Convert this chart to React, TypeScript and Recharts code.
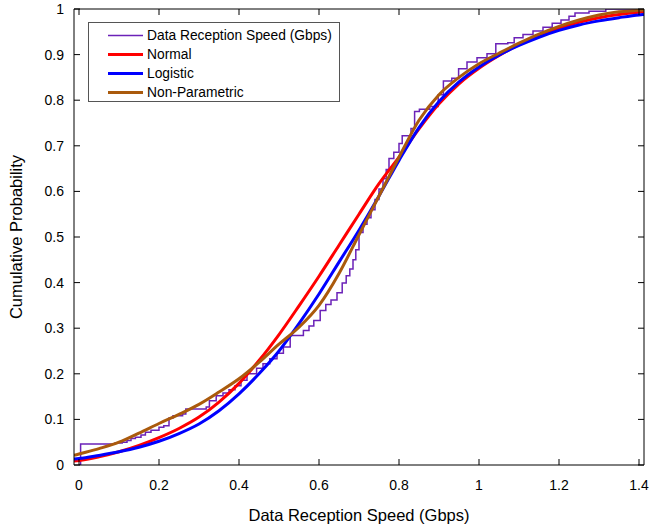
import { Legend, Line, LineChart, XAxis, YAxis } from "recharts";

const fitX = [
    -0.0125, 0, 0.05, 0.1, 0.15, 0.2, 0.25, 0.3, 0.35, 0.4, 0.45, 0.5, 0.55, 0.6, 0.65, 0.7,
    0.75, 0.8, 0.85, 0.9, 0.95, 1.0, 1.05, 1.1, 1.15, 1.2, 1.25, 1.3, 1.35, 1.4, 1.4125,
];

const normalY = [
    0.009, 0.01, 0.018, 0.029, 0.043, 0.06, 0.08, 0.105, 0.138, 0.179, 0.229, 0.286, 0.349, 0.414, 0.482, 0.55,
    0.617, 0.675, 0.737, 0.792, 0.836, 0.87, 0.898, 0.922, 0.942, 0.958, 0.971, 0.981, 0.988, 0.993, 0.994,
];

const logisticY = [
    0.013, 0.014, 0.021, 0.029, 0.039, 0.052, 0.069, 0.09, 0.119, 0.156, 0.2, 0.25, 0.31, 0.375, 0.445, 0.515,
    0.59, 0.668, 0.74, 0.797, 0.84, 0.873, 0.899, 0.92, 0.938, 0.953, 0.965, 0.974, 0.981, 0.987, 0.988,
];

const nonParamY = [
    0.021, 0.024, 0.036, 0.05, 0.07, 0.091, 0.111, 0.133, 0.16, 0.189, 0.225, 0.265, 0.302, 0.35, 0.42, 0.505,
    0.59, 0.675, 0.756, 0.812, 0.85, 0.88, 0.903, 0.925, 0.945, 0.962, 0.976, 0.987, 0.994, 0.997, 0.998,
];

// empirical cdf (step)
const empX = [
    0, 0.004, 0.09, 0.108, 0.12, 0.13, 0.141, 0.155, 0.166, 0.18, 0.2, 0.212, 0.225, 0.235, 0.259, 0.267,
    0.318, 0.326, 0.343, 0.36, 0.375, 0.39, 0.405, 0.42, 0.444, 0.46, 0.477, 0.495, 0.511, 0.528, 0.561, 0.575,
    0.587, 0.603, 0.617, 0.63, 0.645, 0.658, 0.668, 0.677, 0.685, 0.692, 0.7, 0.71, 0.72, 0.73, 0.74, 0.75,
    0.76, 0.768, 0.775, 0.787, 0.8, 0.808, 0.83, 0.839, 0.851, 0.877, 0.898, 0.911, 0.932, 0.949, 0.97, 0.995,
    1.02, 1.042, 1.072, 1.088, 1.11, 1.135, 1.16, 1.183, 1.205, 1.225, 1.24, 1.275, 1.317, 1.4125,
];
const empY = [
    0, 0.046, 0.048, 0.05, 0.054, 0.058, 0.061, 0.066, 0.072, 0.076, 0.083, 0.086, 0.103, 0.108, 0.112, 0.123,
    0.127, 0.141, 0.152, 0.158, 0.165, 0.174, 0.186, 0.2, 0.212, 0.222, 0.233, 0.245, 0.259, 0.284, 0.295, 0.305,
    0.317, 0.339, 0.352, 0.362, 0.378, 0.399, 0.415, 0.43, 0.45, 0.472, 0.51, 0.528, 0.542, 0.56, 0.582, 0.605,
    0.628, 0.648, 0.672, 0.686, 0.705, 0.722, 0.738, 0.775, 0.78, 0.786, 0.812, 0.842, 0.848, 0.869, 0.884, 0.893,
    0.902, 0.924, 0.926, 0.937, 0.944, 0.952, 0.96, 0.969, 0.976, 0.984, 0.991, 0.995, 1.0, 1.0,
];

const seriesNames = ["Data Reception Speed (Gbps)", "Normal", "Logistic", "Non-Parametric"];
const seriesColors = ["#6b22b8", "#ff0000", "#0000ff", "#aa5a0c"];

const xTicks = [0, 0.2, 0.4, 0.6, 0.8, 1, 1.2, 1.4];
const yTicks = [0, 0.1, 0.2, 0.3, 0.4, 0.5, 0.6, 0.7, 0.8, 0.9, 1];

const FONT = "'Liberation Sans', Arial, sans-serif";
const TICK_LEN = 6;

const fitData = fitX.map((x, i) => ({
    x,
    normal: normalY[i],
    logistic: logisticY[i],
    nonParam: nonParamY[i],
}));
const empData = empX.map((x, i) => ({ x, y: empY[i] }));

// ticks point inward, like the original
function BottomTick({ x, y, payload }: any) {
    return (
        <g>
            <line x1={x} y1={y} x2={x} y2={y - TICK_LEN} stroke="#000" />
            <text x={x} y={y + 25} textAnchor="middle" fontSize={14} fontFamily={FONT} fill="#000">
                {payload.value}
            </text>
        </g>
    );
}

function TopTick({ x, y }: any) {
    return <line x1={x} y1={y} x2={x} y2={y + TICK_LEN} stroke="#000" />;
}

function LeftTick({ x, y, payload }: any) {
    return (
        <g>
            <line x1={x} y1={y} x2={x + TICK_LEN} y2={y} stroke="#000" />
            <text x={x - 10} y={y + 5} textAnchor="end" fontSize={14} fontFamily={FONT} fill="#000">
                {payload.value}
            </text>
        </g>
    );
}

function RightTick({ x, y }: any) {
    return <line x1={x} y1={y} x2={x - TICK_LEN} y2={y} stroke="#000" />;
}

function LegendBox() {
    return (
        <div
            style={{
                width: 252,
                height: 80,
                boxSizing: "border-box",
                border: "1px solid #555",
                background: "#fff",
                position: "relative",
            }}
        >
            <svg width={250} height={78} style={{ position: "absolute", left: 0, top: 0 }}>
                {seriesNames.map((name, i) => (
                    <g key={name}>
                        <line
                            x1={19}
                            x2={54}
                            y1={12.5 + i * 19}
                            y2={12.5 + i * 19}
                            stroke={seriesColors[i]}
                            strokeWidth={i === 0 ? 1.5 : 3}
                        />
                        <text x={58} y={17.3 + i * 19} fontSize={13.8} fontFamily={FONT} fill="#000">
                            {name}
                        </text>
                    </g>
                ))}
            </svg>
        </div>
    );
}

export default function App() {
    return (
        <div style={{ position: "absolute", left: 0, top: 0, background: "#fff" }}>
            <LineChart width={649} height={526} margin={{ top: 8, right: 4, bottom: 0, left: 0 }}>
                <XAxis
                    type="number"
                    dataKey="x"
                    domain={[-0.0125, 1.4125]}
                    ticks={xTicks}
                    allowDataOverflow
                    height={61}
                    tickSize={0}
                    tickMargin={0}
                    tickLine={false}
                    stroke="#000"
                    tick={<BottomTick />}
                    interval={0}
                    label={{
                        value: "Data Reception Speed (Gbps)",
                        position: "insideBottom",
                        offset: 5,
                        fontSize: 16.5,
                        fontFamily: FONT,
                        fill: "#000",
                    }}
                />
                <XAxis
                    xAxisId="top"
                    orientation="top"
                    type="number"
                    dataKey="x"
                    domain={[-0.0125, 1.4125]}
                    ticks={xTicks}
                    allowDataOverflow
                    height={1}
                    tickSize={0}
                    tickMargin={0}
                    tickLine={false}
                    stroke="#000"
                    tick={<TopTick />}
                    interval={0}
                />
                <YAxis
                    type="number"
                    domain={[0, 1]}
                    ticks={yTicks}
                    allowDataOverflow
                    width={74}
                    tickSize={0}
                    tickMargin={0}
                    tickLine={false}
                    stroke="#000"
                    tick={<LeftTick />}
                    interval={0}
                    label={{
                        value: "Cumulative Probability",
                        angle: -90,
                        position: "insideLeft",
                        offset: 16,
                        style: { textAnchor: "middle" },
                        fontSize: 16.5,
                        fontFamily: FONT,
                        fill: "#000",
                    }}
                />
                <YAxis
                    yAxisId="right"
                    orientation="right"
                    type="number"
                    domain={[0, 1]}
                    ticks={yTicks}
                    allowDataOverflow
                    width={1}
                    tickSize={0}
                    tickMargin={0}
                    tickLine={false}
                    stroke="#000"
                    tick={<RightTick />}
                    interval={0}
                />
                <Legend
                    layout="horizontal"
                    verticalAlign="middle"
                    align="center"
                    wrapperStyle={{ left: 88, top: 22, width: 252, height: 80 }}
                    content={<LegendBox />}
                />
                <Line
                    data={empData}
                    dataKey="y"
                    name={seriesNames[0]}
                    type="stepAfter"
                    stroke={seriesColors[0]}
                    strokeWidth={1.5}
                    dot={false}
                    activeDot={false}
                    isAnimationActive={false}
                />
                <Line
                    data={fitData}
                    dataKey="normal"
                    name={seriesNames[1]}
                    type="monotone"
                    stroke={seriesColors[1]}
                    strokeWidth={3}
                    dot={false}
                    activeDot={false}
                    isAnimationActive={false}
                />
                <Line
                    data={fitData}
                    dataKey="logistic"
                    name={seriesNames[2]}
                    xAxisId="top"
                    yAxisId="right"
                    type="monotone"
                    stroke={seriesColors[2]}
                    strokeWidth={3}
                    dot={false}
                    activeDot={false}
                    isAnimationActive={false}
                />
                <Line
                    data={fitData}
                    dataKey="nonParam"
                    name={seriesNames[3]}
                    xAxisId="top"
                    yAxisId="right"
                    type="monotone"
                    stroke={seriesColors[3]}
                    strokeWidth={3}
                    dot={false}
                    activeDot={false}
                    isAnimationActive={false}
                />
            </LineChart>
        </div>
    );
}
